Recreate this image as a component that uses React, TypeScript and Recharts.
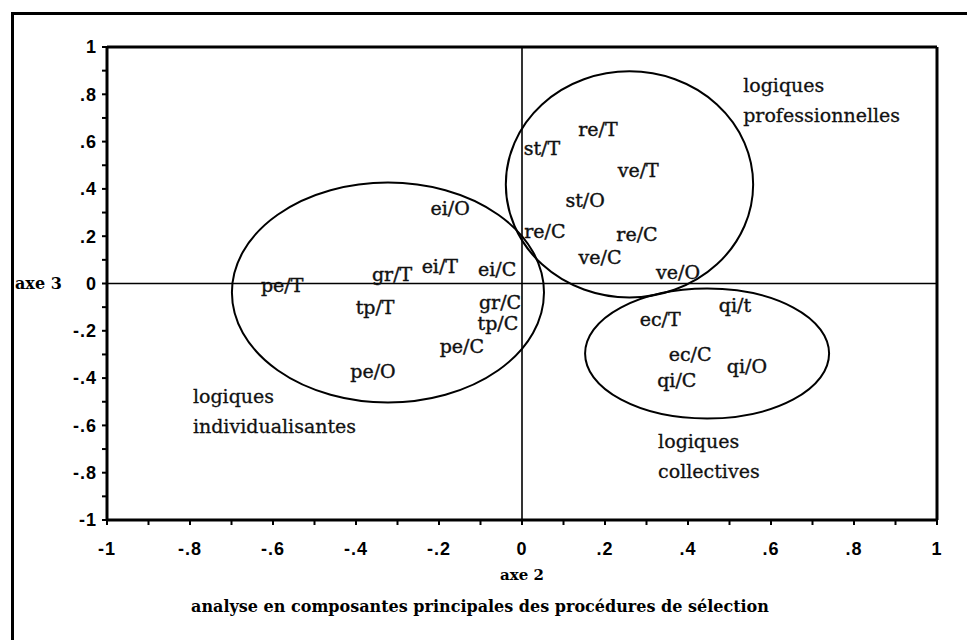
import React from 'react';
import {
  ReferenceArea,
  ReferenceLine,
  Scatter,
  ScatterChart,
  XAxis,
  YAxis,
} from 'recharts';

// ─── Data ────────────────────────────────────────────────────────────

const TICKS = [
  -1, -0.9, -0.8, -0.7, -0.6, -0.5, -0.4, -0.3, -0.2, -0.1,
  0, 0.1, 0.2, 0.3, 0.4, 0.5, 0.6, 0.7, 0.8, 0.9, 1,
];

// procédures de sélection (labels, coordonnées axe 2 / axe 3)
const PROC_LABELS = [
  're/T', 'st/T', 've/T', 'st/O', 're/C', 're/C', 've/C', 've/O',
  'ei/O', 'gr/T', 'ei/T', 'ei/C', 'pe/T', 'tp/T', 'gr/C', 'tp/C', 'pe/C', 'pe/O',
  'ec/T', 'qi/t', 'ec/C', 'qi/O', 'qi/C',
];
const PROC_AXE2 = [
  0.183, 0.048, 0.28, 0.152, 0.055, 0.277, 0.188, 0.376,
  -0.173, -0.313, -0.198, -0.06, -0.578, -0.354, -0.053, -0.058, -0.145, -0.359,
  0.333, 0.513, 0.405, 0.542, 0.373,
];
const PROC_AXE3 = [
  0.655, 0.575, 0.478, 0.351, 0.224, 0.211, 0.11, 0.047,
  0.321, 0.042, 0.076, 0.063, -0.008, -0.101, -0.08, -0.169, -0.266, -0.368,
  -0.148, -0.093, -0.296, -0.347, -0.41,
];

// regroupements (ellipses)
const GROUP_NAMES = [
  ['logiques', 'professionnelles'],
  ['logiques', 'individualisantes'],
  ['logiques', 'collectives'],
];
const GROUP_LABEL_X = [0.533, -0.793, 0.328];
const GROUP_LABEL_Y = [0.837, -0.482, -0.672];
const ELLIPSE_CX = [0.259, -0.323, 0.446];
const ELLIPSE_CY = [0.419, -0.038, -0.296];
const ELLIPSE_RX = [0.298, 0.376, 0.294];
const ELLIPSE_RY = [0.478, 0.465, 0.275];

const TITLE = 'analyse en composantes principales des procédures de sélection';

// ─── Helpers ─────────────────────────────────────────────────────────

const points = PROC_LABELS.map((label, i) => ({
  label,
  x: PROC_AXE2[i],
  y: PROC_AXE3[i],
}));

const groups = GROUP_NAMES.map((lines, i) => ({
  lines,
  x: GROUP_LABEL_X[i],
  y: GROUP_LABEL_Y[i],
}));

function formatTick(v: number): string {
  if (Math.round(v * 10) % 2 !== 0) return '';
  if (v === 0) return '0';
  if (v === 1 || v === -1) return String(v);
  return String(Number(v.toFixed(1))).replace('0.', '.');
}

const SERIF = '"DejaVu Serif", serif';
const SANS = '"Liberation Sans", Arial, sans-serif';

const PointLabel = (props: any) => (
  <text
    x={props.cx}
    y={props.cy}
    textAnchor="middle"
    dominantBaseline="central"
    fontFamily={SERIF}
    fontSize={19}
    fill="#111"
    stroke="#111"
    strokeWidth={0.4}
  >
    {props.payload.label}
  </text>
);

const GroupLabel = (props: any) => (
  <text
    x={props.cx}
    y={props.cy}
    fontFamily={SERIF}
    fontSize={19}
    fill="#111"
    stroke="#111"
    strokeWidth={0.3}
  >
    {props.payload.lines.map((line: string, i: number) => (
      <tspan key={i} x={props.cx} y={props.cy + 6 + i * 30}>
        {line}
      </tspan>
    ))}
  </text>
);

const EllipseShape = (props: any) => (
  <ellipse
    cx={props.x + props.width / 2}
    cy={props.y + props.height / 2}
    rx={props.width / 2}
    ry={props.height / 2}
    fill="none"
    stroke="#000"
    strokeWidth={2}
  />
);

const tickStyle = {
  fontFamily: SANS,
  fontWeight: 'bold',
  fontSize: 18,
  letterSpacing: 1,
  fill: '#000',
};
const axisLine = { stroke: '#000', strokeWidth: 3 };
const tickLine = { stroke: '#000', strokeWidth: 2 };

// ─── Component ───────────────────────────────────────────────────────

export default function App() {
  return (
    <div
      style={{
        position: 'absolute',
        left: 0,
        top: 0,
        width: 967,
        height: 640,
        background: '#fff',
      }}
    >
      <div
        style={{
          position: 'absolute',
          left: 11,
          top: 12,
          width: 956,
          height: 628,
          borderTop: '3px solid #000',
          borderLeft: '3px solid #000',
          boxSizing: 'border-box',
        }}
      />
      <ScatterChart
        width={967}
        height={640}
        margin={{ top: 43, right: 26, bottom: 50, left: 10 }}
        style={{ position: 'absolute', left: 0, top: 0 }}
      >
        <XAxis
          xAxisId="b"
          dataKey="x"
          type="number"
          domain={[-1, 1]}
          ticks={TICKS}
          interval={0}
          allowDataOverflow
          tickFormatter={formatTick}
          tick={tickStyle}
          fontSize={18}
          fontFamily={SANS}
          fontWeight="bold"
          tickSize={5}
          tickMargin={17}
          tickLine={tickLine}
          axisLine={axisLine}
          height={70}
          label={{
            value: 'axe 2',
            position: 'insideBottom',
            offset: 10,
            fontFamily: SERIF,
            fontSize: 15,
            fontWeight: 'bold',
            fill: '#000',
          }}
        />
        <XAxis
          xAxisId="t"
          orientation="top"
          type="number"
          domain={[-1, 1]}
          ticks={TICKS}
          interval={0}
          allowDataOverflow
          tick={false}
          tickSize={4}
          tickLine={tickLine}
          axisLine={axisLine}
          height={4}
        />
        <YAxis
          yAxisId="l"
          dataKey="y"
          type="number"
          domain={[-1, 1]}
          ticks={TICKS}
          interval={0}
          allowDataOverflow
          tickFormatter={formatTick}
          tick={tickStyle}
          fontSize={18}
          fontFamily={SANS}
          fontWeight="bold"
          tickSize={5}
          tickMargin={5}
          tickLine={tickLine}
          axisLine={axisLine}
          width={97}
          label={{
            value: 'axe 3',
            position: 'insideLeft',
            offset: 5,
            fontFamily: SERIF,
            fontSize: 16,
            fontWeight: 'bold',
            fill: '#000',
          }}
        />
        <YAxis
          yAxisId="r"
          orientation="right"
          type="number"
          domain={[-1, 1]}
          ticks={TICKS}
          interval={0}
          allowDataOverflow
          tick={false}
          tickSize={4}
          tickLine={tickLine}
          axisLine={axisLine}
          width={4}
        />

        <ReferenceLine xAxisId="b" yAxisId="l" x={0} stroke="#000" strokeWidth={1.6} />
        <ReferenceLine xAxisId="b" yAxisId="l" y={0} stroke="#000" strokeWidth={1.6} />

        {ELLIPSE_CX.map((cx, i) => (
          <ReferenceArea
            key={i}
            xAxisId="b"
            yAxisId="l"
            x1={cx - ELLIPSE_RX[i]}
            x2={cx + ELLIPSE_RX[i]}
            y1={ELLIPSE_CY[i] - ELLIPSE_RY[i]}
            y2={ELLIPSE_CY[i] + ELLIPSE_RY[i]}
            ifOverflow="visible"
            shape={EllipseShape}
          />
        ))}

        <Scatter
          xAxisId="b"
          yAxisId="l"
          data={points}
          shape={PointLabel}
          isAnimationActive={false}
        />
        <Scatter
          xAxisId="b"
          yAxisId="l"
          data={groups}
          shape={GroupLabel}
          isAnimationActive={false}
        />
      </ScatterChart>
      <div
        style={{
          position: 'absolute',
          left: 0,
          top: 597,
          width: 960,
          textAlign: 'center',
          fontFamily: SERIF,
          fontWeight: 'bold',
          fontSize: 16,
          color: '#000',
        }}
      >
        {TITLE}
      </div>
    </div>
  );
}
